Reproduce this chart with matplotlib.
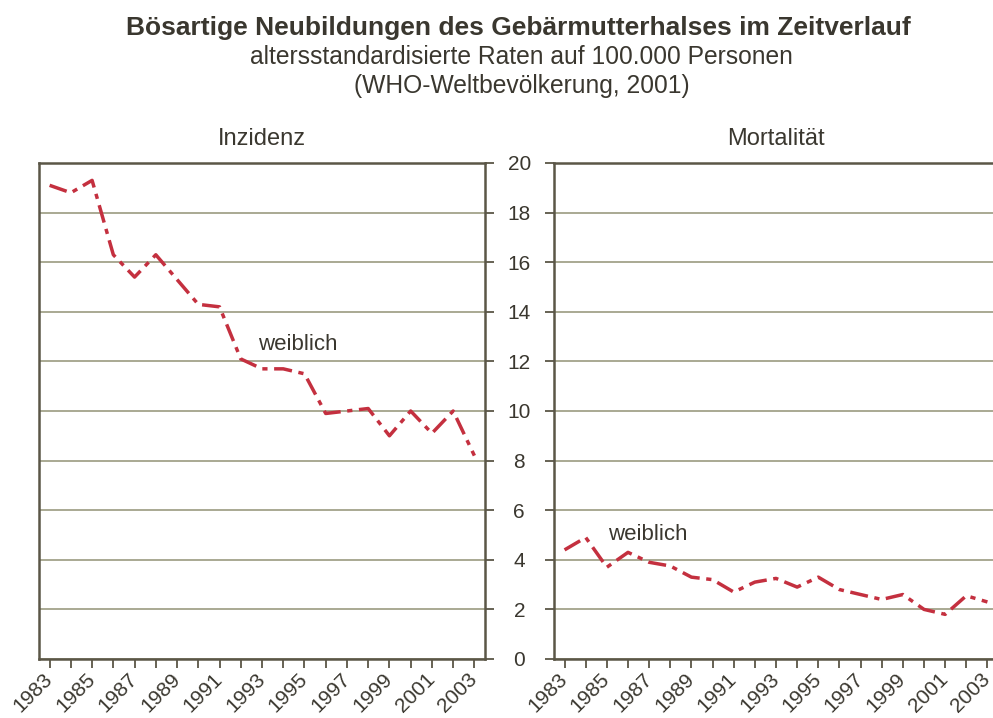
import matplotlib
matplotlib.use("Agg")
import matplotlib.pyplot as plt
from matplotlib.ticker import MultipleLocator

# data
years = list(range(1983, 2004))
inzidenz = [19.1, 18.8, 19.3, 16.3, 15.4, 16.3, 15.3, 14.3, 14.2, 12.1, 11.7,
            11.7, 11.5, 9.9, 10.0, 10.1, 9.0, 10.0, 9.1, 10.0, 8.2]
mortalitaet = [4.4, 4.9, 3.7, 4.3, 3.9, 3.75, 3.3, 3.2, 2.7, 3.1, 3.25,
               2.9, 3.3, 2.8, 2.6, 2.4, 2.6, 2.0, 1.8, 2.55, 2.3]
panel_titles = ["Inzidenz", "Mortalität"]
series_label = "weiblich"

txt = "#3a372f"
spine_c = "#5b5647"
grid_c = "#a9a993"
line_c = "#c4303f"

plt.rcParams['font.family'] = ['Liberation Sans', 'DejaVu Sans']

fig = plt.figure(figsize=(9.93, 7.18), dpi=100)
ax1 = fig.add_axes([39/993, 1-659/718, 446/993, 496/718])
ax2 = fig.add_axes([554/993, 1-659/718, 444/993, 496/718])

for ax, vals, title in [(ax1, inzidenz, panel_titles[0]), (ax2, mortalitaet, panel_titles[1])]:
    ax.plot(years, vals, color=line_c, lw=2.5, linestyle=(0, (5.2, 1.9, 1.5, 1.9)),
            dash_capstyle='butt', solid_joinstyle='miter', zorder=3)
    ax.set_xlim(1982.5, 2003.5)
    ax.set_ylim(0, 20)
    ax.set_yticks(range(0, 21, 2))
    ax.xaxis.set_minor_locator(MultipleLocator(1))
    ax.set_xticks(years[::2])
    ax.set_xticklabels([str(y) for y in years[::2]], rotation=45,
                       ha='right', va='center', rotation_mode='anchor')
    ax.tick_params(axis='x', which='both', direction='out', length=6.5, width=1.3,
                   color=spine_c, labelsize=15, labelcolor=txt, pad=6)
    ax.grid(axis='y', color=grid_c, lw=1.4)
    for s in ax.spines.values():
        s.set_color(spine_c)
        s.set_linewidth(1.8)
    ax.text(0.5, (659-145)/496, title, transform=ax.transAxes, ha='center',
            va='baseline', fontsize=17, color=txt)

ax1.yaxis.tick_right()
ax1.tick_params(axis='y', direction='out', length=6.5, width=1.3, color=spine_c,
                labelright=False)
ax2.tick_params(axis='y', direction='out', length=6.5, width=1.3, color=spine_c,
                labelsize=15, labelcolor=txt, pad=18.5)
for lab in ax2.get_yticklabels():
    lab.set_horizontalalignment('center')

ax1.text(1992.8, 12.7, series_label, fontsize=16, color=txt, va='center')
ax2.text(1985.05, 5.0, series_label, fontsize=16, color=txt, va='center')

fig.text(0.522, 1-35/718, "Bösartige Neubildungen des Gebärmutterhalses im Zeitverlauf",
         ha='center', va='baseline', fontsize=19, fontweight='bold', color=txt)
fig.text(0.525, 1-64/718, "altersstandardisierte Raten auf 100.000 Personen",
         ha='center', va='baseline', fontsize=17.7, color=txt)
fig.text(0.525, 1-93/718, "(WHO-Weltbevölkerung, 2001)",
         ha='center', va='baseline', fontsize=17.7, color=txt)

fig.savefig("out.png", dpi=100)
